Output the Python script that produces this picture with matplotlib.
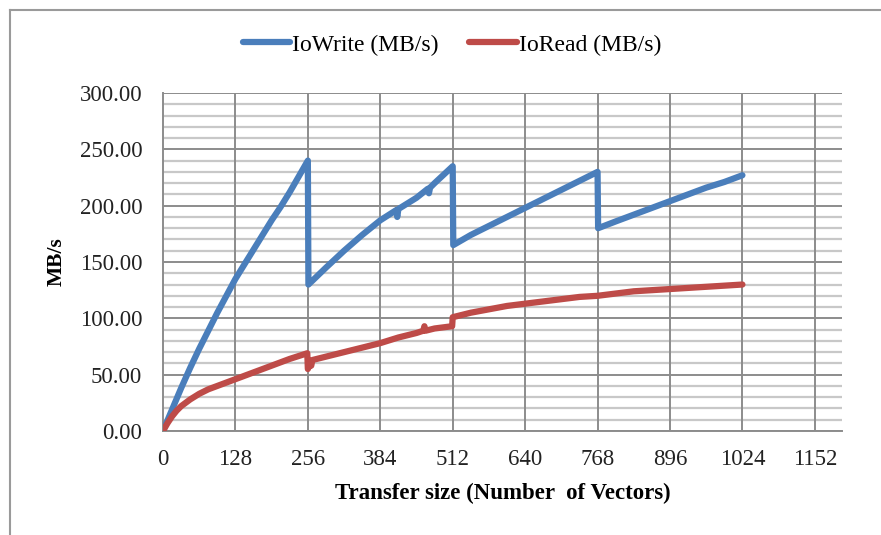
import matplotlib
matplotlib.use("Agg")
import matplotlib.pyplot as plt
from matplotlib.lines import Line2D

plt.rcParams['font.family'] = ['Liberation Serif', 'DejaVu Serif']

# ---- data ----
write_x = [0, 16, 32, 48, 64, 96, 128, 160, 192, 208, 224, 240, 256,
           257, 288, 320, 352, 384, 412, 414, 416, 448, 468, 470, 472, 480, 512,
           513, 544, 576, 608, 640, 672, 704, 736, 768,
           769, 800, 832, 864, 896, 928, 960, 992, 1024]
write_y = [0, 19, 38, 56, 73, 105, 135, 161, 187, 199, 212, 226, 240,
           130, 145, 160, 174, 187, 196, 190, 197, 207, 215, 211, 216, 220, 235,
           165, 174, 182, 190, 198, 206, 214, 222, 230,
           180, 186, 192, 198, 204, 210, 216, 221, 227]

read_x = [0, 8, 16, 24, 32, 48, 64, 80, 96, 112, 128, 160, 192, 224, 255,
          256, 260, 262, 264, 288, 320, 352, 384, 416, 448, 460, 462, 464, 480, 511,
          512, 544, 576, 608, 640, 672, 704, 736, 768, 800, 832, 864, 896, 928, 960, 992, 1024]
read_y = [0, 7, 13, 18, 22, 28, 33, 37, 40, 43, 46, 52, 58, 64, 69,
          55, 60, 58, 63, 66, 70, 74, 78, 83, 87, 89, 93, 89, 91, 93,
          101, 105, 108, 111, 113, 115, 117, 119, 120, 122, 124, 125, 126, 127, 128, 129, 130]

x_ticks = [0, 128, 256, 384, 512, 640, 768, 896, 1024, 1152]
y_ticks = [0, 50, 100, 150, 200, 250, 300]

blue = '#4A7EBB'
red = '#BE4B48'

fig = plt.figure(figsize=(8.81, 5.35), dpi=100)
ax = fig.add_axes([163/881, 1 - 431/535, (842 - 163)/881, (431 - 93)/535])

# grid
for yv in range(10, 300, 10):
    if yv % 50:
        ax.axhline(yv, color='#c8c8c8', lw=1.6, zorder=1)
for yv in y_ticks:
    ax.axhline(yv, color='#8c8c8c', lw=1.4, zorder=1)
for xv in x_ticks[1:]:
    ax.axvline(xv, color='#8c8c8c', lw=1.4, zorder=1)

ax.plot(write_x, write_y, color=blue, lw=4.5, solid_joinstyle='round', solid_capstyle='round',
        zorder=3, label='IoWrite (MB/s)')
ax.plot(read_x, read_y, color=red, lw=4.5, solid_joinstyle='round', solid_capstyle='round',
        zorder=3, label='IoRead (MB/s)')

ax.set_xlim(0, 1200)
ax.set_ylim(0, 300)
ax.set_xticks(x_ticks)
ax.set_xticklabels([str(v) for v in x_ticks])
ax.set_yticks(y_ticks)
ax.set_yticklabels([f"{v:.2f}" for v in y_ticks])
ax.tick_params(axis='both', length=0, labelsize=16.5, colors='#222222')
ax.tick_params(axis='y', pad=15)
ax.tick_params(axis='x', pad=13)

for s in ['top', 'right']:
    ax.spines[s].set_visible(False)
for s in ['left', 'bottom']:
    ax.spines[s].set_color('#8c8c8c')
    ax.spines[s].set_linewidth(1.4)

ax.set_xlabel('Transfer size (Number  of Vectors)', fontsize=16.5, fontweight='bold', labelpad=9)
ax.set_ylabel('MB/s', fontsize=15.5, fontweight='bold', labelpad=9)

fig.legend(loc='center', bbox_to_anchor=(452/881, 1 - 45/535), ncol=2, frameon=False,
           fontsize=17, handlelength=2.0, columnspacing=1.3, handletextpad=0.1)

# outer border (top and left visible)
fig.add_artist(Line2D([10/881, 10/881], [0, 1 - 10/535], transform=fig.transFigure, color='#9a9a9a', lw=1.5))
fig.add_artist(Line2D([10/881, 1], [1 - 10/535, 1 - 10/535], transform=fig.transFigure, color='#9a9a9a', lw=1.5))

fig.savefig('out.png', dpi=100)
